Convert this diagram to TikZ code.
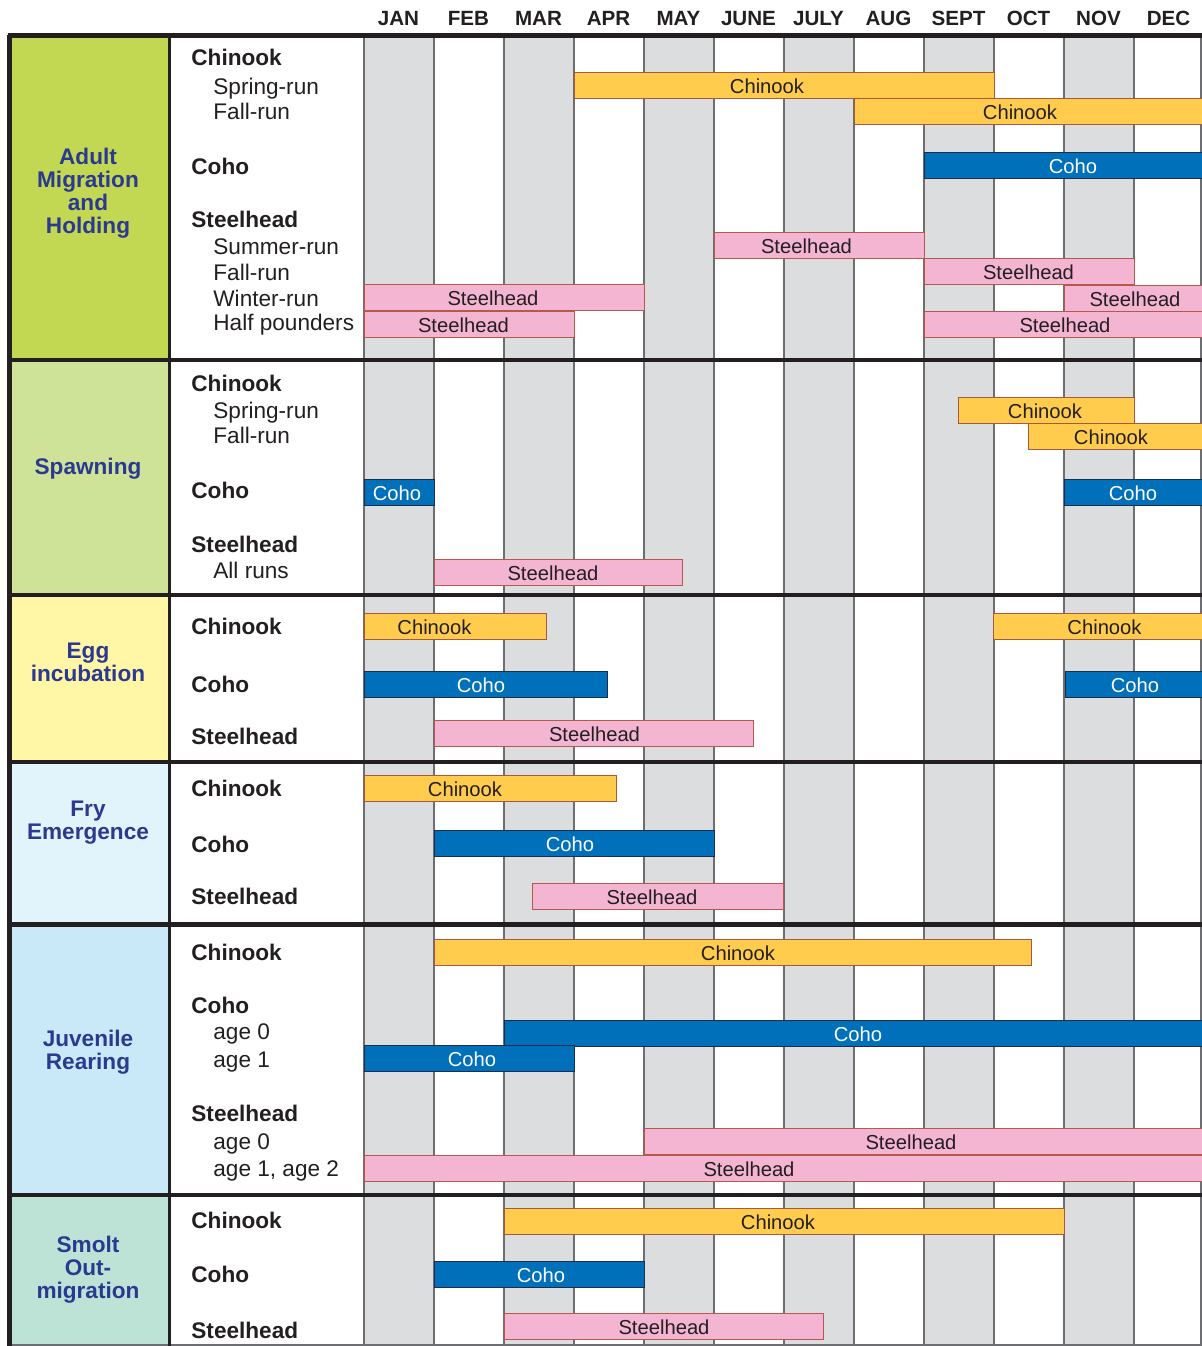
\documentclass[tikz,border=0pt]{standalone}
\usepackage{fontspec}
\setmainfont{Liberation Sans}
\usepackage{tikz}

\definecolor{framec}{HTML}{231F20}
\definecolor{gridc}{HTML}{6D6E71}
\definecolor{shadec}{HTML}{DCDDDE}
\definecolor{phasec}{HTML}{2B3990}
\definecolor{chinookc}{HTML}{FFCC4E}
\definecolor{chinookline}{HTML}{A9583E}
\definecolor{cohoc}{HTML}{0070BB}
\definecolor{coholine}{HTML}{1F2D4A}
\definecolor{steelc}{HTML}{F4B5D2}
\definecolor{steelline}{HTML}{B55A4A}
\definecolor{adultc}{HTML}{C2D853}
\definecolor{spawnc}{HTML}{CEE298}
\definecolor{eggc}{HTML}{FFF6A6}
\definecolor{fryc}{HTML}{E1F3FB}
\definecolor{juvc}{HTML}{C9E9F9}
\definecolor{smoltc}{HTML}{BCE3D6}

\begin{document}
\begin{tikzpicture}[x=0.5pt, y=-0.5pt,
  frame/.style={draw=framec, line width=2.25pt},
  gridline/.style={draw=gridc, line width=1pt},
  monthlabel/.style={anchor=base, inner sep=0pt, text=framec, font=\bfseries\fontsize{10.3}{12}\selectfont},
  fishname/.style={anchor=base west, inner sep=0pt, text=framec, font=\bfseries\fontsize{11.3}{13}\selectfont},
  runname/.style={anchor=base west, inner sep=0pt, text=framec, font=\fontsize{11.3}{13}\selectfont},
  phase/.style={align=center, inner sep=0pt, text=phasec, font=\bfseries\fontsize{11.3}{11.5}\selectfont},
  barlabel/.style={anchor=base, inner sep=0pt, font=\fontsize{10.1}{12}\selectfont},
  chinookbar/.style={fill=chinookc, draw=chinookline, line width=0.5pt},
  cohobar/.style={fill=cohoc, draw=coholine, line width=0.5pt},
  steelbar/.style={fill=steelc, draw=steelline, line width=0.5pt}]
\useasboundingbox (0,0) rectangle (1202,1346);
\clip (0,0) rectangle (1202,1346);

\foreach \ya/\yb/\c in {35.5/360/adultc, 360/595/spawnc, 595/762/eggc,
                        762/924.5/fryc, 924.5/1195/juvc, 1195/1346/smoltc}
  \fill[\c] (9.5,\ya) rectangle (169,\yb);
\foreach \k in {0,2,4,6,8,10}
  \fill[shadec] (363.5+70*\k,35.5) rectangle ++(70,1312);
\foreach \k in {0,...,11}
  \draw[gridline] (363.5+70*\k,35.5) -- ++(0,1312);
\draw[gridline] (1201,35.5) -- (1201,1346);
\draw[gridline] (9.5,1345) -- (1202,1345);

\foreach \m [count=\i] in {JAN,FEB,MAR,APR,MAY,JUNE,JULY,AUG,SEPT,OCT,NOV,DEC}
  \node[monthlabel] (month\i) at (328.5+70*\i,25) {\m};

\foreach \xa/\xb/\yc/\lx [count=\i] in {574/994/85/767, 854/1204/111/1020,
    958.5/1134/410/1045, 1028.5/1204/436.5/1111, 364/546.5/626/434.5,
    993/1204/626/1104.5, 364/616/788/465, 434/1031/952/738, 504/1064/1221/778} {
  \draw[chinookbar] (\xa,\yc-13) rectangle (\xb,\yc+13);
  \node[barlabel, text=framec] (chinook\i) at (\lx,\yc+8) {Chinook};
}
\foreach \xa/\xb/\yc/\lx [count=\i] in {924/1204/165/1073, 364/434/492/397,
    1064/1204/492/1133, 364/607.5/684/481, 1065/1204/684.5/1135, 434/714/843/570,
    504/1204/1033/858, 364/574/1058/472, 434/644/1274/541} {
  \draw[cohobar] (\xa,\yc-13) rectangle (\xb,\yc+13);
  \node[barlabel, text=white] (coho\i) at (\lx,\yc+8) {Coho};
}
\foreach \xa/\xb/\yc/\lx [count=\i] in {714/924/245.5/806.5, 924/1134/271.5/1028.5,
    364/644/297.5/493, 1064/1204/298/1135, 364/574/324/463.5, 924/1204/324/1065,
    434/682/572/553, 434/753/733.5/594.5, 532/783/896/652, 644/1204/1141/911,
    364/1204/1168/749, 504/823/1326/664} {
  \draw[steelbar] (\xa,\yc-13) rectangle (\xb,\yc+13);
  \node[barlabel, text=framec] (steel\i) at (\lx,\yc+8) {Steelhead};
}

\foreach \t/\y [count=\i] in {Chinook/65, Coho/174, Steelhead/227,
    Chinook/391, Coho/498, Steelhead/552,
    Chinook/634, Coho/692, Steelhead/744,
    Chinook/796, Coho/852, Steelhead/904,
    Chinook/960, Coho/1013, Steelhead/1121,
    Chinook/1228, Coho/1282, Steelhead/1338}
  \node[fishname] (fish\i) at (191,\y) {\t};
\foreach \t/\y [count=\i] in {Spring-run/94, Fall-run/119, Summer-run/254,
    Fall-run/280, Winter-run/306, Half pounders/330,
    Spring-run/418, Fall-run/443, All runs/578,
    age 0/1039, age 1/1067, age 0/1149, {age 1, age 2}/1176}
  \node[runname] (run\i) at (213,\y) {\t};

\node[phase] (adult) at (88,193) {Adult\\Migration\\and\\Holding};
\node[phase] (spawning) at (88,469) {Spawning};
\node[phase] (egg) at (88,662) {Egg\\incubation};
\node[phase] (fry) at (88,823) {Fry\\Emergence};
\node[phase] (juvenile) at (88,1052) {Juvenile\\Rearing};
\node[phase] (smolt) at (88,1270) {Smolt\\Out-\\migration};

\foreach \y in {35.5,360,595,762,924.5,1195}
  \draw[frame] (7.5,\y) -- (1202,\y);
\draw[frame] (9.5,34.5) -- (9.5,1346);
\draw[framec, line width=1.5pt] (169,35.5) -- (169,1346);
\end{tikzpicture}
\end{document}
